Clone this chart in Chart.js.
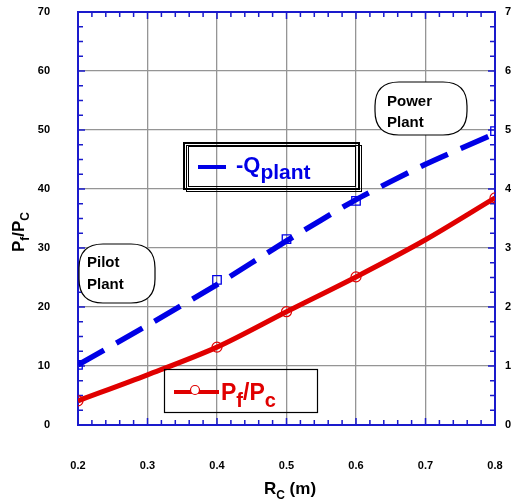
<!DOCTYPE html>
<html>
<head>
<meta charset="utf-8">
<script src="https://cdn.jsdelivr.net/npm/chart.js@4.4.1/dist/chart.umd.min.js"></script>
<style>
  html, body { margin: 0; padding: 0; background: #fff; overflow: hidden; }
  #wrap { width: 511px; height: 504px; }
</style>
</head>
<body>
<div id="wrap"><canvas id="myChart"></canvas></div>
<script>
// Rc values (m)
const rcValues = [0.2, 0.3, 0.4, 0.5, 0.6, 0.7, 0.8];
// Pf/Pc curve (red)
const pfPc = [4.1, 8.5, 13.2, 19.2, 25.1, 31.4, 38.5];
const pfPcMarker = [5, 0, 5, 5, 5, 0, 5];
// -Qplant curve (blue dashed) and its square markers
const qPlant = [10.2, 16.9, 23.8, 31.2, 38.2, 44.2, 49.4];
const qMarkerRc = [0.2, 0.4, 0.5, 0.6, 0.8];
const qMarkerVal = [10.2, 24.6, 31.5, 38.0, 49.8];
// axis ranges
const xMin = 0.2, xMax = 0.8, xStep = 0.1;
const yMin = 0, yMax = 70, yStep = 10;

const RED = '#e00000';
const BLUE = '#0000e6';
const FRAME = '#1a1acc';

function pts(xs, ys) {
  return xs.map((x, i) => ({ x: x, y: ys[i] }));
}

// draws text pieces like [["P",false],["f",true]] where true = subscript
function richText(ctx, parts, x, y, big, small, color) {
  ctx.fillStyle = color;
  ctx.textBaseline = 'alphabetic';
  ctx.textAlign = 'left';
  let cx = x;
  parts.forEach(p => {
    ctx.font = 'bold ' + (p[1] ? small : big) + 'px Arial';
    ctx.fillText(p[0], cx, p[1] ? y + big * 0.3 : y);
    cx += ctx.measureText(p[0]).width;
  });
  return cx - x;
}
function richWidth(ctx, parts, big, small) {
  let w = 0;
  parts.forEach(p => {
    ctx.font = 'bold ' + (p[1] ? small : big) + 'px Arial';
    w += ctx.measureText(p[0]).width;
  });
  return w;
}

function roundBox(ctx, x, y, w, h, r) {
  ctx.beginPath();
  ctx.moveTo(x + r, y);
  ctx.lineTo(x + w - r, y);
  ctx.quadraticCurveTo(x + w, y, x + w, y + r);
  ctx.lineTo(x + w, y + h - r);
  ctx.quadraticCurveTo(x + w, y + h, x + w - r, y + h);
  ctx.lineTo(x + r, y + h);
  ctx.quadraticCurveTo(x, y + h, x, y + h - r);
  ctx.lineTo(x, y + r);
  ctx.quadraticCurveTo(x, y, x + r, y);
  ctx.closePath();
  ctx.fillStyle = '#fff';
  ctx.fill();
  ctx.strokeStyle = '#000';
  ctx.lineWidth = 1.2;
  ctx.stroke();
}

const framePlugin = {
  id: 'frame',
  beforeDatasetsDraw(chart) {
    const ctx = chart.ctx;
    const a = chart.chartArea;
    const xs = chart.scales.x, ys = chart.scales.y;
    ctx.save();
    ctx.strokeStyle = FRAME;
    ctx.lineWidth = 1.5;
    // minor ticks
    ctx.beginPath();
    for (let v = xMin; v <= xMax + 1e-9; v += 0.02) {
      const px = xs.getPixelForValue(v);
      const major = Math.abs(v * 10 - Math.round(v * 10)) < 1e-6;
      const len = major ? 7 : 5;
      ctx.moveTo(px, a.bottom); ctx.lineTo(px, a.bottom - len);
      ctx.moveTo(px, a.top); ctx.lineTo(px, a.top + len);
    }
    for (let v = yMin; v <= yMax + 1e-9; v += 2.5) {
      const py = ys.getPixelForValue(v);
      const major = v % 10 === 0;
      const len = major ? 7 : 5;
      ctx.moveTo(a.left, py); ctx.lineTo(a.left + len, py);
      ctx.moveTo(a.right, py); ctx.lineTo(a.right - len, py);
    }
    ctx.stroke();
    ctx.lineWidth = 2;
    ctx.strokeRect(a.left, a.top, a.right - a.left, a.bottom - a.top);
    ctx.restore();
  },
  afterDatasetsDraw(chart) {
    const ctx = chart.ctx;
    ctx.save();

    // -Qplant legend box (with shadow)
    ctx.strokeStyle = '#000';
    ctx.lineWidth = 1;
    ctx.strokeRect(186.5, 145.5, 175, 46);
    ctx.lineWidth = 2;
    ctx.strokeRect(184, 143, 175, 46);
    ctx.lineWidth = 1;
    ctx.strokeRect(188.5, 146.5, 167, 40);
    ctx.strokeStyle = BLUE;
    ctx.lineWidth = 4;
    ctx.beginPath(); ctx.moveTo(198, 167); ctx.lineTo(226, 167); ctx.stroke();
    richText(ctx, [['-Q', false], ['plant', true]], 236, 172, 22, 21, BLUE);

    // Pf/Pc legend box
    ctx.strokeStyle = '#000';
    ctx.lineWidth = 1.2;
    ctx.strokeRect(164.5, 369.5, 153, 43);
    ctx.strokeStyle = RED;
    ctx.lineWidth = 4;
    ctx.beginPath(); ctx.moveTo(174, 392); ctx.lineTo(219, 392); ctx.stroke();
    ctx.lineWidth = 1.2;
    ctx.fillStyle = '#fff';
    ctx.beginPath(); ctx.arc(195, 390, 4.5, 0, Math.PI * 2); ctx.fill(); ctx.stroke();
    richText(ctx, [['P', false], ['f', true], ['/P', false], ['c', true]], 221, 400, 23, 20, RED);

    // Pilot Plant / Power Plant callouts
    roundBox(ctx, 79, 244, 76, 59, 24);
    ctx.fillStyle = '#000';
    ctx.font = 'bold 15px Arial';
    ctx.textAlign = 'left';
    ctx.textBaseline = 'alphabetic';
    ctx.fillText('Pilot', 87, 267);
    ctx.fillText('Plant', 87, 289);
    roundBox(ctx, 375, 82, 92, 53, 24);
    ctx.fillStyle = '#000';
    ctx.fillText('Power', 387, 106);
    ctx.fillText('Plant', 387, 127);

    // axis titles
    const xParts = [['R', false], ['C', true], [' (m)', false]];
    const xw = richWidth(ctx, xParts, 17, 12);
    richText(ctx, xParts, 290 - xw / 2, 494, 17, 12, '#000');
    const yParts = [['P', false], ['f', true], ['/P', false], ['C', true]];
    const yw = richWidth(ctx, yParts, 17, 12);
    ctx.translate(24, 232);
    ctx.rotate(-Math.PI / 2);
    richText(ctx, yParts, -yw / 2, 0, 17, 12, '#000');
    ctx.restore();
  }
};

const tickFont = { family: 'Arial', size: 11, weight: 'bold' };

function fixSize(w, h) {
  return s => {
    if (w !== null) s.width = w;
    if (h !== null) s.height = h;
    s.paddingTop = 0; s.paddingBottom = 0;
    s.paddingLeft = 0; s.paddingRight = 0;
  };
}

const ctx = document.getElementById('myChart').getContext('2d');
const chart = new Chart(ctx, {
  type: 'line',
  data: {
    datasets: [{
      label: '-Qplant',
      data: pts(rcValues, qPlant),
      borderColor: BLUE,
      borderWidth: 5.5,
      borderDash: [30, 14],
      pointRadius: 0,
      tension: 0.2,
      fill: false
    }, {
      label: '-Qplant markers',
      data: pts(qMarkerRc, qMarkerVal),
      showLine: false,
      pointStyle: 'rect',
      pointRadius: 6,
      pointBorderWidth: 1.3,
      pointBorderColor: BLUE,
      pointBackgroundColor: 'rgba(255,255,255,0)',
      borderColor: BLUE
    }, {
      label: 'Pf/Pc',
      data: pts(rcValues, pfPc),
      borderColor: RED,
      borderWidth: 5,
      tension: 0.3,
      pointRadius: pfPcMarker,
      pointBorderWidth: 1.2,
      pointBorderColor: RED,
      pointBackgroundColor: 'rgba(255,255,255,0)',
      fill: false
    }]
  },
  options: {
    responsive: true,
    maintainAspectRatio: false,
    animation: false,
    layout: { autoPadding: false, padding: { top: 12, left: 0, right: 0, bottom: 0 } },
    plugins: { legend: { display: false }, tooltip: { enabled: false } },
    scales: {
      x: {
        type: 'linear',
        min: xMin, max: xMax,
        afterFit: fixSize(null, 79),
        ticks: {
          stepSize: xStep,
          color: '#000',
          font: tickFont,
          padding: 34,
          maxRotation: 0,
          callback: v => v.toFixed(1)
        },
        grid: { color: '#959595', lineWidth: 1.3, drawTicks: false },
        border: { display: false }
      },
      y: {
        min: yMin, max: yMax,
        afterFit: fixSize(78, null),
        ticks: { stepSize: yStep, color: '#000', font: tickFont, padding: 28 },
        grid: { color: '#959595', lineWidth: 1.3, drawTicks: false },
        border: { display: false }
      },
      y2: {
        position: 'right',
        min: yMin, max: yMax,
        afterFit: fixSize(16, null),
        ticks: { stepSize: yStep, color: '#000', font: tickFont, padding: 10 },
        grid: { display: false, drawTicks: false },
        border: { display: false }
      }
    }
  },
  plugins: [framePlugin]
});
</script>
</body>
</html>
